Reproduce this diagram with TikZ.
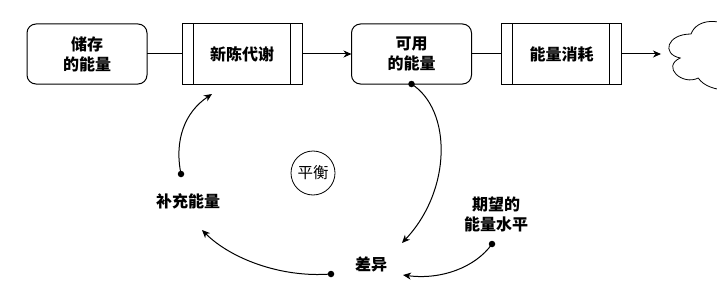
\documentclass[tikz,border=0pt]{standalone}
\usepackage{fontspec}
\setmainfont{Noto Sans CJK SC}
\usetikzlibrary{arrows.meta,calc}
\begin{document}
\begin{tikzpicture}[x=1pt,y=-1pt,
  every node/.style={inner sep=0pt,outer sep=0pt},
  lbl/.style={font=\bfseries\fontsize{16}{20}\selectfont,align=center},
  store/.style={draw,line width=1pt,rounded corners=9pt,minimum width=120pt,minimum height=60pt,lbl},
  proc/.style={draw,line width=1pt,minimum width=120pt,minimum height=60pt,lbl},
  conn/.style={line width=1pt},
  arr/.style={line width=1pt,-{Stealth[length=8pt,width=7pt,inset=2.5pt]}},
  dot/.style={circle,fill=black,minimum size=6.5pt}
]
\useasboundingbox (0,0) rectangle (717,305);
\fill[white] (0,0) rectangle (717,305);

\node[store] (s1) at (87,54) {储存\\的能量};
\node[proc]  (p1) at (242,54) {新陈代谢};
\node[store] (s2) at (411.5,54) {可用\\的能量};
\node[proc]  (p2) at (561.5,54) {能量消耗};

\foreach \b in {p1,p2}{
  \draw[conn] ($(\b.north west)+(11,0)$) -- ($(\b.south west)+(11,0)$);
  \draw[conn] ($(\b.north east)+(-12,0)$) -- ($(\b.south east)+(-12,0)$);
}

% cloud (drawio cloud shape, x0=661, y0=14, w=120, h=80)
\begin{scope}[shift={(661,14)},x=120pt,y=-80pt]
\draw[line width=0.8pt]
  (0.25,0.25) .. controls (0.05,0.25) and (0,0.5) .. (0.16,0.55)
  .. controls (0,0.66) and (0.18,0.9) .. (0.31,0.8)
  .. controls (0.4,1) and (0.7,1) .. (0.8,0.8)
  .. controls (1,0.8) and (1,0.6) .. (0.875,0.5)
  .. controls (1,0.3) and (0.8,0.1) .. (0.625,0.2)
  .. controls (0.5,0.05) and (0.3,0.05) .. (0.25,0.25) -- cycle;
\end{scope}
\coordinate (cloudL) at (661,54);

\draw[conn] (s1.east) -- (p1.west);
\draw[arr]  (p1.east) -- (s2.west);
\draw[conn] (s2.east) -- (p2.west);
\draw[arr]  (p2.east) -- (cloudL);

% bottom loop
\node[draw,circle,line width=0.8pt,minimum size=44pt,font=\fontsize{15.5}{18}\selectfont] (bal) at (313,173) {平衡};
\node[lbl] (bu) at (188,201) {补充能量};
\node[lbl] (cy) at (371,264.5) {差异};
\node[lbl] (qw) at (496,214.5) {期望的\\能量水平};

\node[dot] (d1) at (411.5,84) {};
\node[dot] (d2) at (181,174) {};
\node[dot] (d3) at (331,274) {};
\node[dot] (d4) at (492,244) {};

\coordinate (t1) at (402,243);
\coordinate (t2) at (212,94);
\coordinate (t3) at (202,230);
\coordinate (t4) at (403,275);

\draw[arr] (d1.center) .. controls (452,110) and (452,190) .. (t1);
\draw[arr] (d2.center) .. controls (174,140) and (185,112) .. (t2);
\draw[arr] (d3.center) .. controls (280,278) and (230,258) .. (t3);
\draw[arr] (d4.center) .. controls (475,268) and (440,280) .. (t4);
\end{tikzpicture}
\end{document}
